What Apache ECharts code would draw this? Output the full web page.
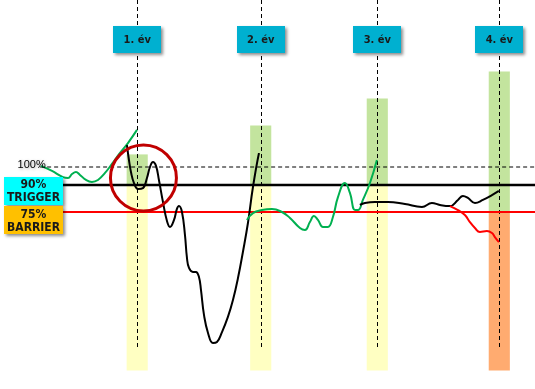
<!DOCTYPE html>
<html>
<head>
<meta charset="utf-8">
<script src="https://cdn.jsdelivr.net/npm/echarts@6/dist/echarts.min.js"></script>
<style>
  html, body { margin: 0; padding: 0; background: #ffffff; }
  #chart { width: 535px; height: 389px; }
</style>
</head>
<body>
<div id="chart"></div>
<script>
// Observation dates (months from start) and their labels
const yearMonths = [12.05, 24.33, 35.92, 48.05];
const yearLabels = ['1. év', '2. év', '3. év', '4. év'];

// Reference levels (% of initial value)
const levelInitial = 100;
const levelTrigger = 90;
const levelBarrier = 75;

// Payoff columns at each observation date
const payoffTops = [107, 123, 138, 153];
const payoffSplits = [90, 90, 90, 75];
const payoffBottom = -13;

// Underlying price paths, [month, % of initial]
const pathStart = [
  [2.49, 100.6], [3.58, 97.8], [4.67, 94.4], [5.17, 93.9], [5.57, 96.1], [5.96, 97.2],
  [6.36, 95.6], [6.96, 92.8], [7.55, 91.7], [8.15, 92.8], [8.85, 96.7], [9.54, 101.7],
  [10.34, 107.8], [11.13, 113.3], [12.03, 120.6]
];
const pathYear1 = [
  [11.03, 112.2], [11.23, 103.9], [11.43, 97.2], [11.73, 91.1], [12.13, 87.8], [12.62, 88.3],
  [13.02, 93.9], [13.32, 100], [13.62, 102.8], [13.92, 100.6], [14.21, 92.8], [14.61, 80.6],
  [15.01, 70], [15.31, 66.7], [15.71, 70.6], [16.0, 76.7], [16.2, 78.3], [16.5, 75],
  [16.8, 62.2], [17.0, 49.4], [17.2, 43.9], [17.59, 41.7], [17.89, 41.7], [18.19, 38.9],
  [18.39, 31.7], [18.69, 17.8], [19.09, 7.8], [19.58, 2.2], [19.98, 2.8], [20.48, 8.3],
  [21.07, 16.7], [21.57, 26.1], [22.07, 38.3], [22.56, 52.8], [23.06, 68.9], [23.56, 88.9],
  [24.16, 107.8]
];
const pathYear2 = [
  [22.96, 70.6], [23.56, 74.4], [24.45, 76.1], [25.45, 76.7], [26.44, 75], [27.24, 71.7],
  [28.23, 66.1], [28.73, 65], [29.22, 69.4], [29.62, 72.8], [30.02, 70.6], [30.52, 66.7],
  [31.01, 66.7], [31.51, 72.2], [32.01, 83.3], [32.7, 91.1], [33.2, 85.6], [33.7, 76.1],
  [34.0, 76.1], [34.49, 81.7], [35.19, 91.1], [35.88, 103.9]
];
const pathYear3 = [
  [34.19, 78.9], [34.69, 80], [35.69, 80.6], [36.98, 80.6], [38.67, 79.4], [40.36, 77.8],
  [41.35, 80], [42.15, 78.9], [43.14, 78.3], [43.94, 81.7], [44.43, 83.9], [44.93, 82.8],
  [45.63, 80], [46.42, 81.7], [47.32, 84.4], [48.01, 86.7]
];
const pathBreach = [
  [43.14, 78.3], [43.94, 76.1], [44.63, 73.3], [45.13, 69.4], [45.63, 66.1], [46.12, 63.9],
  [46.82, 64.4], [47.32, 63.3], [47.61, 61.1], [48.01, 58.3]
];

// Callout tags: [month, level, text, kind]
const tagItems = [
  [1.74, 86.7, '90%\nTRIGGER', 'trigger'],
  [1.74, 70.3, '75%\nBARRIER', 'barrier']
];
const highlight = [12.67, 93.9, 3.28]; // centre month, centre level, radius in months

const COLORS = {
  gain: '#c3e49e',
  hold: '#ffffc2',
  loss: '#ffab70',
  green: '#00b050',
  red: '#ff0000',
  black: '#000000',
  yearBox: '#00b0d0',
  trigger: '#00ffff',
  barrier: '#ffc000',
  circle: '#c00000'
};
const FONT_NARROW = '"Liberation Sans Narrow", "DejaVu Sans Condensed", "Liberation Sans", sans-serif';
const COLUMN_WIDTH = 2.1;

const columnData = [];
yearMonths.forEach((m, i) => {
  columnData.push([m, payoffSplits[i], payoffTops[i], 'gain']);
  columnData.push([m, payoffBottom, payoffSplits[i], i === 3 ? 'loss' : 'hold']);
});

const chart = echarts.init(document.getElementById('chart'), null, { renderer: 'canvas' });

function pathSeries(data, color, z) {
  return {
    type: 'line', data: data, smooth: 0.45, symbol: 'none', z: z, clip: false,
    lineStyle: { color: color, width: 2 }, silent: true
  };
}
function levelSeries(from, level, color, width, type, z) {
  return {
    type: 'line', data: [[from, level], [51.6, level]], symbol: 'none', z: z, clip: false,
    lineStyle: { color: color, width: width, type: type }, silent: true
  };
}

chart.setOption({
  animation: false,
  backgroundColor: '#ffffff',
  grid: { left: 16, right: 0, top: 5, bottom: 6 },
  xAxis: { type: 'value', min: 0, max: 51.6, show: false },
  yAxis: { type: 'value', min: -20, max: 190, show: false },
  series: [
    {
      type: 'custom', z: 1, silent: true, clip: false,
      data: columnData,
      renderItem: function (params, api) {
        const m = api.value(0);
        const p1 = api.coord([m - COLUMN_WIDTH / 2, api.value(2)]);
        const p2 = api.coord([m + COLUMN_WIDTH / 2, api.value(1)]);
        return {
          type: 'rect',
          shape: { x: p1[0], y: p1[1], width: p2[0] - p1[0], height: p2[1] - p1[1] },
          style: { fill: COLORS[columnData[params.dataIndex][3]] }
        };
      }
    },
    {
      type: 'custom', z: 2, silent: true, clip: false,
      data: yearMonths.map(m => [m, 0, 193]),
      renderItem: function (params, api) {
        const a = api.coord([api.value(0), api.value(1)]);
        const b = api.coord([api.value(0), api.value(2)]);
        return {
          type: 'line',
          shape: { x1: Math.round(a[0]) + 0.5, y1: a[1], x2: Math.round(b[0]) + 0.5, y2: b[1] },
          style: { stroke: '#000', lineWidth: 1, lineDash: [4, 3] }
        };
      }
    },
    levelSeries(2.4, levelInitial, COLORS.black, 1, [4, 3], 3),
    levelSeries(4.67, levelTrigger, COLORS.black, 2.6, 'solid', 3),
    levelSeries(4.67, levelBarrier, COLORS.red, 2, 'solid', 3),
    pathSeries(pathStart, COLORS.green, 4),
    pathSeries(pathYear1, COLORS.black, 4),
    pathSeries(pathYear2, COLORS.green, 4),
    pathSeries(pathYear3, COLORS.black, 4),
    pathSeries(pathBreach, COLORS.red, 4),
    {
      type: 'custom', z: 5, silent: true, clip: false,
      data: [highlight],
      renderItem: function (params, api) {
        const c = api.coord([api.value(0), api.value(1)]);
        const r = api.size([api.value(2), 0])[0];
        return {
          type: 'circle',
          shape: { cx: c[0], cy: c[1], r: r },
          style: { fill: 'none', stroke: COLORS.circle, lineWidth: 3 }
        };
      }
    },
    {
      type: 'custom', z: 6, silent: true, clip: false,
      data: yearMonths.map((m, i) => [m, 170.8, i]),
      renderItem: function (params, api) {
        const c = api.coord([api.value(0), api.value(1)]);
        const w = 48, h = 27;
        return {
          type: 'group',
          children: [
            {
              type: 'rect',
              shape: { x: Math.round(c[0] - w / 2), y: Math.round(c[1] - h / 2), width: w, height: h },
              style: { fill: COLORS.yearBox, shadowBlur: 3, shadowColor: 'rgba(0,0,0,0.45)', shadowOffsetX: 2, shadowOffsetY: 2 }
            },
            {
              type: 'text',
              style: {
                text: yearLabels[params.dataIndex], x: c[0], y: c[1] + 0.5,
                align: 'center', verticalAlign: 'middle',
                font: 'bold 11px ' + FONT_NARROW, fill: '#1a1a1a'
              }
            }
          ]
        };
      }
    },
    {
      type: 'custom', z: 6, silent: true, clip: false,
      data: tagItems.map(t => [t[0], t[1]]),
      renderItem: function (params, api) {
        const item = tagItems[params.dataIndex];
        const c = api.coord([api.value(0), api.value(1)]);
        const w = 59, h = 28;
        return {
          type: 'group',
          children: [
            {
              type: 'rect',
              shape: { x: Math.round(c[0] - w / 2), y: Math.round(c[1] - h / 2), width: w, height: h },
              style: { fill: COLORS[item[3]], shadowBlur: 3, shadowColor: 'rgba(0,0,0,0.45)', shadowOffsetX: 2, shadowOffsetY: 2 }
            },
            {
              type: 'text',
              style: {
                text: item[2], x: c[0], y: c[1] + 0.5,
                align: 'center', verticalAlign: 'middle', lineHeight: 13,
                font: 'bold 12px ' + FONT_NARROW, fill: '#1a1a1a'
              }
            }
          ]
        };
      }
    },
    {
      type: 'custom', z: 6, silent: true, clip: false,
      data: [[2.95, levelInitial + 1]],
      renderItem: function (params, api) {
        const c = api.coord([api.value(0), api.value(1)]);
        return {
          type: 'text',
          style: {
            text: levelInitial + '%', x: c[0], y: c[1],
            align: 'right', verticalAlign: 'middle',
            font: '11px "Liberation Sans", Arial, sans-serif', fill: '#000',
            textShadowColor: 'rgba(0,0,0,0.35)', textShadowBlur: 3, textShadowOffsetX: 1, textShadowOffsetY: 1
          }
        };
      }
    }
  ]
});
</script>
</body>
</html>
